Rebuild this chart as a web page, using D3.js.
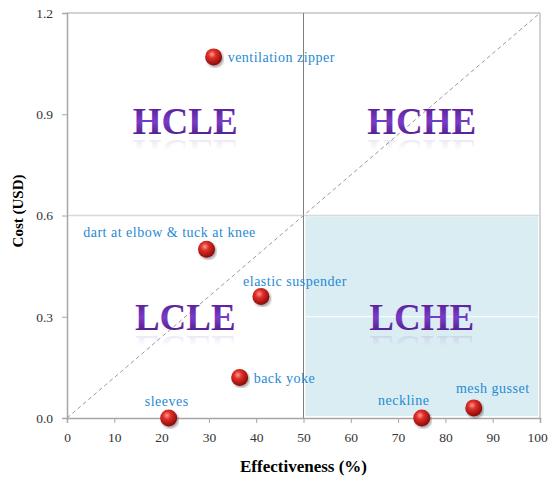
<!DOCTYPE html>
<html>
<head>
<meta charset="utf-8">
<script src="https://cdn.jsdelivr.net/npm/d3@7"></script>
<style>
  body { margin: 0; background: #fff; }
  svg { display: block; }
</style>
</head>
<body>
<svg id="chart"></svg>
<script>
// measures and their values
const features = ["ventilation zipper", "dart at elbow & tuck at knee", "elastic suspender", "back yoke", "sleeves", "neckline", "mesh gusset"]
const effectiveness = [31, 29.5, 41, 36.5, 21.5, 75, 86]
const cost = [1.07, 0.5, 0.36, 0.12, 0, 0, 0.03]
// where each label sits relative to its point
const labelSide = ["right", "aboveLeft", "aboveRight", "right", "above", "aboveLeft2", "aboveRight2"]

const xTicks = [0, 10, 20, 30, 40, 50, 60, 70, 80, 90, 100]
const yTicks = [0, 0.3, 0.6, 0.9, 1.2]

const quadrants = ["HCLE", "HCHE", "LCLE", "LCHE"]
const quadrantX = [25, 75, 25, 75]
const quadrantY = [0.9, 0.9, 0.32, 0.32]

const width = 549
const height = 478
const margin = { top: 13, right: 9, bottom: 60, left: 67 }

const svg = d3.select('#chart')
    .attr('width', width)
    .attr('height', height)
    .style('font-family', '"Liberation Serif", serif')

const x = d3.scaleLinear().domain([0, 100]).range([margin.left, width - margin.right])
const y = d3.scaleLinear().domain([0, 1.2]).range([height - margin.bottom, margin.top])

const defs = svg.append('defs')

const ball = defs.append('radialGradient').attr('id', 'ball')
    .attr('cx', '40%').attr('cy', '35%').attr('r', '65%')
ball.append('stop').attr('offset', '0%').attr('stop-color', '#ff9a8a')
ball.append('stop').attr('offset', '35%').attr('stop-color', '#e0302a')
ball.append('stop').attr('offset', '100%').attr('stop-color', '#8a0a08')

const purple = defs.append('linearGradient').attr('id', 'purple')
    .attr('x1', 0).attr('y1', 0).attr('x2', 0).attr('y2', 1)
purple.append('stop').attr('offset', '0%').attr('stop-color', '#4a1480')
purple.append('stop').attr('offset', '50%').attr('stop-color', '#7a3cc8')
purple.append('stop').attr('offset', '100%').attr('stop-color', '#3d0f6e')

const fade = defs.append('linearGradient').attr('id', 'fade')
    .attr('x1', 0).attr('y1', 0).attr('x2', 0).attr('y2', 1)
fade.append('stop').attr('offset', '0%').attr('stop-color', '#fff').attr('stop-opacity', 0.3)
fade.append('stop').attr('offset', '45%').attr('stop-color', '#fff').attr('stop-opacity', 0)
defs.append('mask').attr('id', 'fadeMask').attr('maskContentUnits', 'objectBoundingBox')
    .append('rect').attr('width', 1).attr('height', 1).attr('fill', 'url(#fade)')

defs.append('filter').attr('id', 'shadow')
    .append('feDropShadow').attr('dx', 1.5).attr('dy', 2).attr('stdDeviation', 1.3)
    .attr('flood-color', '#000').attr('flood-opacity', 0.35)

// shaded low cost / high effectiveness area
svg.append('rect')
    .attr('x', x(50) + 2)
    .attr('y', y(0.6) + 1)
    .attr('width', x(100) - x(50) - 4)
    .attr('height', y(0) - y(0.6) - 3)
    .attr('fill', '#daedf3')

// gridlines (white, only seen on the shaded area)
svg.append('g').selectAll('line')
    .data(yTicks.filter(d => d > 0 && d < 1.2 && d !== 0.6))
    .join('line')
    .attr('x1', x(0)).attr('x2', x(100))
    .attr('y1', d => y(d)).attr('y2', d => y(d))
    .attr('stroke', '#fff').attr('stroke-width', 1)

// frame
svg.append('line').attr('x1', x(0)).attr('x2', x(100)).attr('y1', y(1.2)).attr('y2', y(1.2))
    .attr('stroke', '#a6a6a6')
svg.append('line').attr('x1', x(100)).attr('x2', x(100)).attr('y1', y(1.2)).attr('y2', y(0))
    .attr('stroke', '#a6a6a6')

// quadrant dividers
svg.append('line').attr('x1', x(0)).attr('x2', x(100)).attr('y1', y(0.6)).attr('y2', y(0.6))
    .attr('stroke', '#d9d9d9').attr('stroke-width', 1.5)
svg.append('line').attr('x1', x(50)).attr('x2', x(50)).attr('y1', y(1.2)).attr('y2', y(0))
    .attr('stroke', '#7f7f7f')

// diagonal
svg.append('line')
    .attr('x1', x(0)).attr('y1', y(0)).attr('x2', x(100)).attr('y2', y(1.2))
    .attr('stroke', '#9a9a9a').attr('stroke-dasharray', '4,3')

// axes
const xAxis = svg.append('g')
    .attr('transform', `translate(0,${y(0)})`)
    .call(d3.axisBottom(x).tickValues(xTicks).tickSize(5).tickPadding(9).tickFormat(d3.format('d')))
const yAxis = svg.append('g')
    .attr('transform', `translate(${x(0)},0)`)
    .call(d3.axisLeft(y).tickValues(yTicks).tickSize(5).tickPadding(9).tickFormat(d3.format('.1f')))

;[xAxis, yAxis].forEach(a => {
    a.select('.domain').attr('stroke', '#a6a6a6').attr('stroke-width', 1.5)
    a.selectAll('.tick line').attr('stroke', '#a6a6a6')
    a.selectAll('.tick text').attr('fill', '#333').attr('font-size', 13.5)
        .style('font-family', '"Liberation Serif", serif')
})
// last x label sits right at the edge, nudge it in
xAxis.selectAll('.tick text').filter(d => d === 100).attr('dx', -3)

// quadrant names, the reflection reuses the same text node
quadrants.forEach((q, i) => {
    const g = svg.append('g').attr('transform', `translate(${x(quadrantX[i])},${y(quadrantY[i]) + 20})`)
    g.append('text')
        .attr('id', 'q' + i)
        .attr('text-anchor', 'middle')
        .attr('font-size', 37).attr('font-weight', 'bold')
        .attr('fill', 'url(#purple)')
        .text(q)
    g.append('g').attr('mask', 'url(#fadeMask)')
        .append('use')
        .attr('href', '#q' + i)
        .attr('transform', 'translate(0,6) scale(1,-1)')
        .attr('opacity', 0.6)
})

// points
svg.append('g').selectAll('circle')
    .data(features)
    .join('circle')
    .attr('cx', (d, i) => x(effectiveness[i]))
    .attr('cy', (d, i) => y(cost[i]))
    .attr('r', 8.5)
    .attr('fill', 'url(#ball)')
    .attr('filter', 'url(#shadow)')

// labels
const offsets = {
    right: [14, 5, 'start'],
    above: [-2, -12, 'middle'],
    aboveLeft: [-37, -12, 'middle'],
    aboveRight: [34, -11, 'middle'],
    aboveLeft2: [-18, -13, 'middle'],
    aboveRight2: [19, -15, 'middle']
}
svg.append('g').selectAll('text')
    .data(features)
    .join('text')
    .attr('x', (d, i) => x(effectiveness[i]) + offsets[labelSide[i]][0])
    .attr('y', (d, i) => y(cost[i]) + offsets[labelSide[i]][1])
    .attr('text-anchor', (d, i) => offsets[labelSide[i]][2])
    .attr('font-size', 14)
    .attr('letter-spacing', 0.5)
    .attr('fill', '#1f8ad4')
    .text(d => d)

// axis titles
svg.append('text')
    .attr('x', x(50)).attr('y', 472)
    .attr('text-anchor', 'middle')
    .attr('font-size', 17).attr('font-weight', 'bold')
    .text('Effectiveness (%)')
svg.append('text')
    .attr('transform', `translate(23,211) rotate(-90)`)
    .attr('text-anchor', 'middle')
    .attr('font-size', 15).attr('font-weight', 'bold')
    .text('Cost (USD)')
</script>
</body>
</html>
